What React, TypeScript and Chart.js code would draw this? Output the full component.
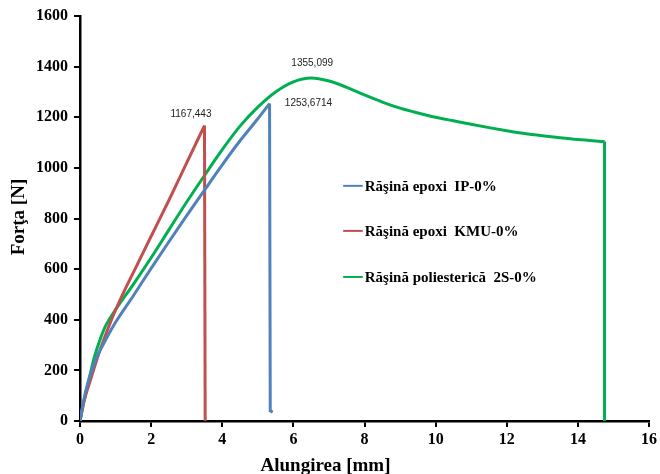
import React, { useEffect, useRef } from "react";
import { Chart, registerables } from "chart.js";

Chart.register(...registerables);

// Blue: Răşină epoxi IP-0%
const blueX = [0, 0.1, 0.25, 0.45, 0.7, 1.0, 1.5, 2.0, 2.5, 3.0, 3.5, 4.0, 4.5, 5.0, 5.33];
const blueY = [0, 80, 165, 245, 315, 390, 495, 603, 708, 811, 912, 1012, 1107, 1194, 1254];
const blueDropX = [5.33, 5.35, 5.42];
const blueDropY = [1254, 40, 35];

// Red: Răşină epoxi KMU-0%
const redX = [0, 0.1, 0.3, 0.6, 0.9, 1.2, 1.6, 2.0, 2.5, 3.0, 3.5];
const redY = [0, 70, 165, 295, 405, 500, 615, 730, 872, 1020, 1167];
const redDropX = [3.5, 3.52];
const redDropY = [1167, 0];

// Green: Răşină poliesterică 2S-0%
const greenX = [0, 0.1, 0.23, 0.4, 0.56, 0.7, 1.0, 1.5, 2.0, 2.5, 3.0, 3.5, 4.0, 4.5, 5.0, 5.5, 6.0, 6.5, 7.0, 7.5, 8.0, 8.5, 9.0, 9.5, 10.0, 10.5, 11.0, 11.5, 12.0, 12.5, 13.0, 13.5, 14.0, 14.75];
const greenY = [0, 70, 150, 250, 320, 370, 440, 540, 645, 755, 865, 970, 1072, 1165, 1240, 1300, 1340, 1355, 1343, 1318, 1288, 1260, 1236, 1217, 1200, 1186, 1172, 1159, 1147, 1136, 1127, 1119, 1112, 1104];
const greenDropX = [14.75, 14.75];
const greenDropY = [1104, 0];

const seriesNames = ["Răşină epoxi  IP-0%", "Răşină epoxi  KMU-0%", "Răşină poliesterică  2S-0%"];
const seriesColors = ["#4f81bd", "#c0504d", "#00b050"];

const peakLabels = ["1253,6714", "1167,443", "1355,099"];

const xTitle = "Alungirea [mm]";
const yTitle = "Forţa [N]";

const toPts = (xs: number[], ys: number[]) => xs.map((x, i) => ({ x, y: ys[i] }));

export default function App() {
  const ref = useRef<HTMLCanvasElement | null>(null);

  useEffect(() => {
    const canvas = ref.current;
    if (!canvas) return;

    const overlay = {
      id: "overlay",
      afterDatasetsDraw(chart: any) {
        const ctx = chart.ctx;
        const xs = chart.scales.x;
        const ys = chart.scales.y;
        ctx.save();
        // peak labels
        ctx.fillStyle = "#222";
        ctx.font = '10px "Liberation Sans", Arial, sans-serif';
        ctx.textBaseline = "middle";
        ctx.textAlign = "center";
        ctx.fillText(peakLabels[1], xs.getPixelForValue(3.12), ys.getPixelForValue(1210));
        ctx.fillText(peakLabels[2], xs.getPixelForValue(6.53), ys.getPixelForValue(1412));
        ctx.textAlign = "left";
        ctx.fillText(peakLabels[0], xs.getPixelForValue(5.76), ys.getPixelForValue(1256));

        // legend
        const legY = [929, 751, 569];
        const lx0 = xs.getPixelForValue(7.4);
        const lx1 = xs.getPixelForValue(7.95);
        for (let i = 0; i < 3; i++) {
          const y = ys.getPixelForValue(legY[i]);
          ctx.strokeStyle = seriesColors[i];
          ctx.lineWidth = 2;
          ctx.beginPath();
          ctx.moveTo(lx0, y);
          ctx.lineTo(lx1, y);
          ctx.stroke();
          ctx.fillStyle = "#000";
          ctx.font = 'bold 15px "Liberation Serif", "Times New Roman", serif';
          ctx.textAlign = "left";
          ctx.textBaseline = "middle";
          ctx.fillText(seriesNames[i], lx1 + 2, y + 1);
        }

        // axis titles
        ctx.fillStyle = "#000";
        ctx.font = 'bold 19px "Liberation Serif", "Times New Roman", serif';
        ctx.textAlign = "center";
        ctx.textBaseline = "middle";
        ctx.fillText(xTitle, (xs.left + xs.right) / 2 - 39, 466);
        ctx.translate(19, 217);
        ctx.rotate(-Math.PI / 2);
        ctx.fillText(yTitle, 0, 0);
        ctx.restore();
      },
    };

    const mk = (xs: number[], ys: number[], color: string, curve: boolean) => ({
      data: toPts(xs, ys),
      borderColor: color,
      backgroundColor: color,
      borderWidth: 3,
      pointRadius: 0,
      showLine: true,
      fill: false,
      tension: curve ? 0.4 : 0,
      cubicInterpolationMode: curve ? "monotone" : "default",
    });

    const tickFont = { family: '"Liberation Serif", "Times New Roman", serif', size: 16, weight: "bold" };

    const chart = new Chart(canvas, {
      type: "scatter",
      data: {
        datasets: [
          mk(blueX, blueY, seriesColors[0], true),
          mk(blueDropX, blueDropY, seriesColors[0], false),
          mk(redX, redY, seriesColors[1], true),
          mk(redDropX, redDropY, seriesColors[1], false),
          mk(greenX, greenY, seriesColors[2], true),
          mk(greenDropX, greenDropY, seriesColors[2], false),
        ] as any,
      },
      options: {
        animation: false,
        responsive: false,
        maintainAspectRatio: false,
        layout: { padding: { top: 16, right: 10, left: 0, bottom: 0 } },
        plugins: {
          legend: { display: false },
          tooltip: { enabled: false },
        },
        scales: {
          x: {
            type: "linear",
            min: 0,
            max: 16,
            ticks: {
              stepSize: 2,
              color: "#000",
              padding: 3,
              font: tickFont,
              maxRotation: 0,
              callback: (v: any) => String(v),
            },
            grid: { drawOnChartArea: false, tickLength: 6, color: "#000", tickColor: "#000", tickWidth: 2, lineWidth: 2 },
            border: { color: "#000", width: 2.5 },
            afterFit: (s: any) => { s.height = 53; },
          },
          y: {
            type: "linear",
            min: 0,
            max: 1600,
            ticks: {
              stepSize: 200,
              color: "#000",
              padding: 6,
              font: tickFont,
              callback: (v: any) => String(v),
            },
            grid: { drawOnChartArea: false, tickLength: 6, color: "#000", tickColor: "#000", tickWidth: 2, lineWidth: 2 },
            border: { color: "#000", width: 2.5 },
            afterFit: (s: any) => { s.width = 80; },
          },
        },
      } as any,
      plugins: [overlay],
    });

    return () => chart.destroy();
  }, []);

  return (
    <div style={{ position: "absolute", left: 0, top: 0, width: 660, height: 474, background: "#fff" }}>
      <canvas ref={ref} width={660} height={474} style={{ display: "block" }} />
    </div>
  );
}
